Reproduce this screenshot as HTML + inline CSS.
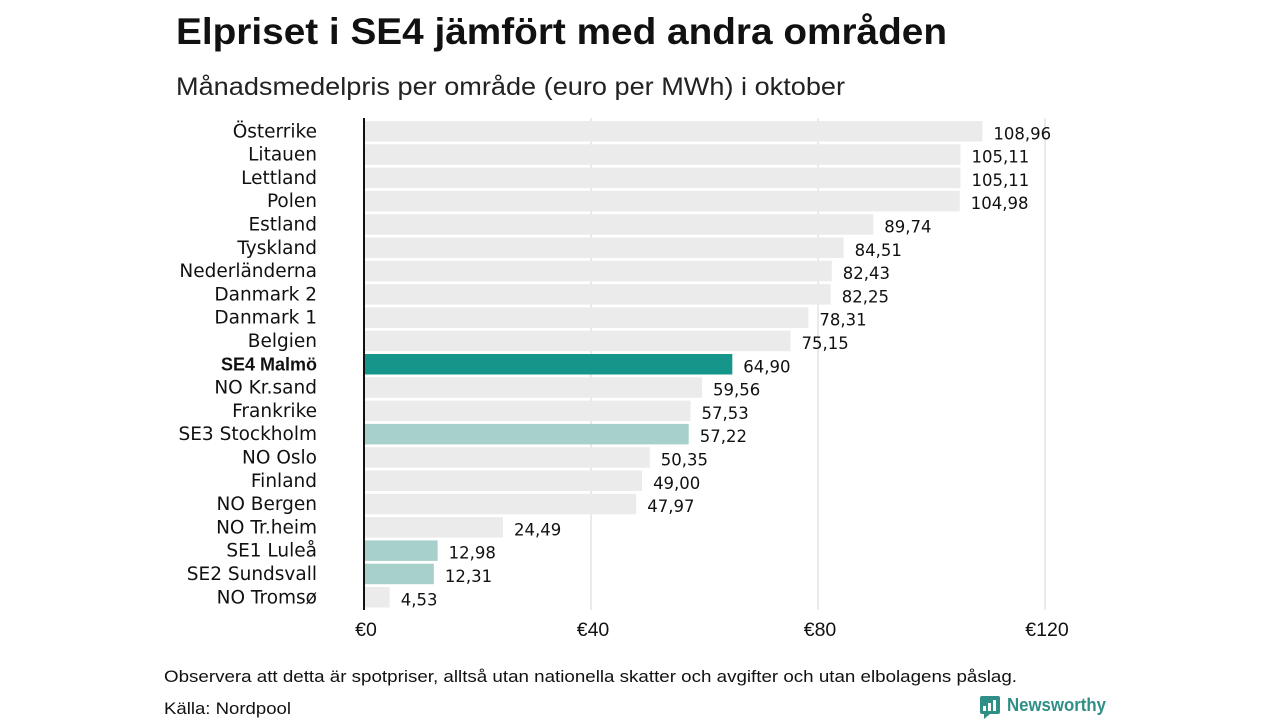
<!DOCTYPE html>
<html><head><meta charset="utf-8">
<style>
body{margin:0;background:#fff;width:1280px;height:720px;overflow:hidden;font-family:"Liberation Sans",sans-serif;}
svg text{font-family:"Liberation Sans",sans-serif;}
</style></head>
<body>
<svg id="chart" width="1280" height="720">
  <text x="176" y="44" font-size="37" font-weight="bold" fill="#111" textLength="771" lengthAdjust="spacingAndGlyphs">Elpriset i SE4 jämfört med andra områden</text>
  <text x="176" y="95" font-size="25" fill="#222" textLength="669" lengthAdjust="spacingAndGlyphs">Månadsmedelpris per område (euro per MWh) i oktober</text>
  <g id="grid"></g>
  <g id="bars"></g>
  <text x="164" y="682" font-size="17" fill="#111" textLength="853" lengthAdjust="spacingAndGlyphs">Observera att detta är spotpriser, alltså utan nationella skatter och avgifter och utan elbolagens påslag.</text>
  <text x="164" y="714" font-size="17" fill="#111" textLength="127" lengthAdjust="spacingAndGlyphs">Källa: Nordpool</text>
  <g>
    <rect x="980" y="696" width="20" height="18" rx="2" fill="#2f8f86"/>
    <polygon points="984,714 990,714 984,719" fill="#2f8f86"/>
    <rect x="983" y="706" width="3" height="5" fill="#fff"/>
    <rect x="988" y="703" width="3" height="8" fill="#fff"/>
    <rect x="993" y="700" width="3" height="11" fill="#fff"/>
    <text x="1007" y="711" font-size="18" font-weight="bold" fill="#2f8f86" textLength="99" lengthAdjust="spacingAndGlyphs">Newsworthy</text>
  </g>
</svg>
<script>
const categories=["Österrike","Litauen","Lettland","Polen","Estland","Tyskland","Nederländerna","Danmark  2","Danmark  1","Belgien","SE4 Malmö","NO Kr.sand","Frankrike","SE3  Stockholm","NO Oslo","Finland","NO Bergen","NO Tr.heim","SE1  Luleå","SE2  Sundsvall","NO Tromsø"];
const values=[108.96,105.11,105.11,104.98,89.74,84.51,82.43,82.25,78.31,75.15,64.90,59.56,57.53,57.22,50.35,49.00,47.97,24.49,12.98,12.31,4.53];
const highlight=["gray","gray","gray","gray","gray","gray","gray","gray","gray","gray","dark","gray","gray","light","gray","gray","gray","gray","light","light","gray"];
const ticks=[0,40,80,120];
const tickLabels=["€0","€40","€80","€120"];
const NS="http://www.w3.org/2000/svg";
const x0=364,pxPer=(1045-364)/120;
const xS=v=>x0+v*pxPer;
const yTop=121,step=23.3,bh=20.5;
const yS=i=>yTop+i*step;
const colors={gray:"#ebebeb",dark:"#16968a",light:"#a7d0ca"};
function mk(tag,attrs,parent){const e=document.createElementNS(NS,tag);for(const k in attrs)e.setAttribute(k,attrs[k]);parent.appendChild(e);return e;}
const grid=document.getElementById('grid'),bars=document.getElementById('bars');
ticks.forEach((t,i)=>{
  if(t>0){const l=mk('line',{x1:xS(t),x2:xS(t),y1:118,y2:610,stroke:'#d4d4d4','stroke-width':1},grid);
  
  }
  const tx=mk('text',{x:xS(t)+2,y:636,'font-size':19.5,fill:'#111','text-anchor':'middle'},grid);
  tx.textContent=tickLabels[i];
  
  
});
categories.forEach((c,i)=>{
  const y=yS(i);
  const r=mk('rect',{x:x0,y:y,width:xS(values[i])-x0,height:bh,fill:colors[highlight[i]]},bars);
  
  
  const lb=mk('text',{x:317,y:y+bh/2+6,'font-size':18.5,fill:'#111','text-anchor':'end',style:'font-family:"DejaVu Sans",sans-serif'},bars);
  if(highlight[i]==='dark'){lb.setAttribute('font-weight','bold');lb.setAttribute('style','font-family:"Liberation Sans",sans-serif');lb.setAttribute('font-size','18');}
  lb.textContent=c;
  
  
  const vl=mk('text',{x:xS(values[i])+11,y:y+bh/2+8,'font-size':16.5,fill:'#111',style:'font-family:"DejaVu Sans",sans-serif'},bars);
  vl.textContent=values[i].toFixed(2).replace('.',',');
  
  
});
const ax=mk('line',{x1:x0,x2:x0,y1:118,y2:610,stroke:'#111','stroke-width':2},bars);


</script>
</body></html>
